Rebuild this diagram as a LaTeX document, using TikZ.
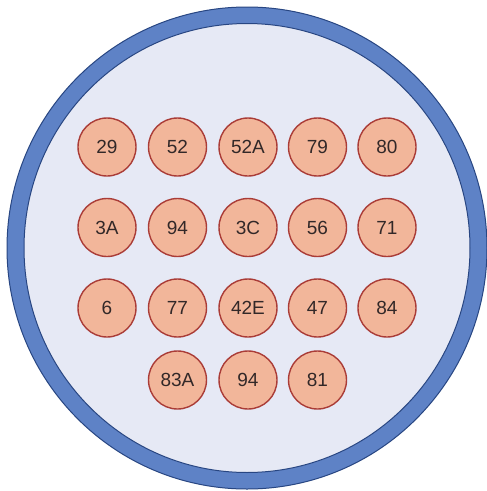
\documentclass[tikz,border=0pt]{standalone}
\usepackage{fontspec}
\setmainfont{Liberation Sans}
\definecolor{pinfill}{RGB}{242,182,154}
\definecolor{pinline}{RGB}{170,60,55}
\definecolor{bodyfill}{RGB}{230,233,245}
\definecolor{ringfill}{RGB}{94,130,198}
\definecolor{ringline}{RGB}{40,70,130}
\definecolor{pintext}{RGB}{50,40,40}
\begin{document}
\begin{tikzpicture}[x=1pt,y=-1pt,
  pin/.style={circle,draw=pinline,line width=1.4pt,fill=pinfill,minimum size=58pt,inner sep=0pt,
    text=pintext,font=\fontsize{19}{19}\selectfont}]
\useasboundingbox (0,0) rectangle (487,491);
\fill[white] (0,0) rectangle (487,491);
\coordinate (ctr) at (247,248);
\draw[draw=ringline,fill=ringfill,line width=1pt] (ctr) ellipse [x radius=240, y radius=241];
\draw[draw=ringline,fill=bodyfill,line width=1pt] (ctr) ellipse [x radius=223, y radius=224.5];
\node[pin] (p29) at (107,147) {29};
\node[pin] (p52) at (177.5,147) {52};
\node[pin] (p52A) at (248,147) {52A};
\node[pin] (p79) at (317.5,147) {79};
\node[pin] (p80) at (387,147) {80};
\node[pin] (p3A) at (107,227.5) {3A};
\node[pin] (p94a) at (177.5,227.5) {94};
\node[pin] (p3C) at (248,227.5) {3C};
\node[pin] (p56) at (317.5,227.5) {56};
\node[pin] (p71) at (387,227.5) {71};
\node[pin] (p6) at (107,308) {6};
\node[pin] (p77) at (177.5,308) {77};
\node[pin] (p42E) at (248,308) {42E};
\node[pin] (p47) at (317.5,308) {47};
\node[pin] (p84) at (387,308) {84};
\node[pin] (p83A) at (177.5,380) {83A};
\node[pin] (p94b) at (248,380) {94};
\node[pin] (p81) at (317.5,380) {81};
\end{tikzpicture}
\end{document}
